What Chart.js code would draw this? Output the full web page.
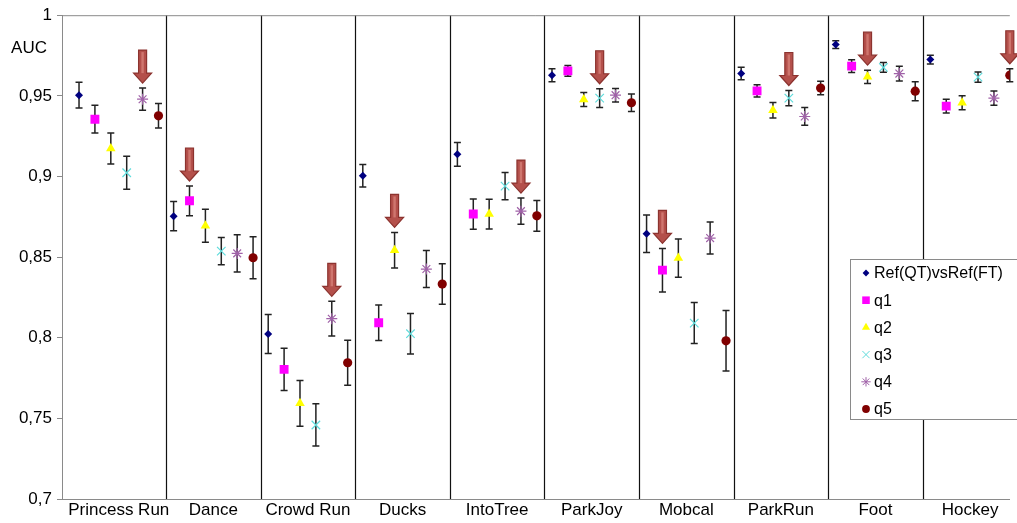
<!DOCTYPE html>
<html>
<head>
<meta charset="utf-8">
<script src="https://cdn.jsdelivr.net/npm/chart.js@4"></script>
<style>
  html, body { margin: 0; padding: 0; background: #fff; overflow: hidden; }
  #wrap { width: 1017px; height: 523px; }
</style>
</head>
<body>
<div id="wrap"><canvas id="resultsChart" width="1017" height="523"></canvas></div>
<script>
const categories = ['Princess Run', 'Dance', 'Crowd Run', 'Ducks', 'IntoTree', 'ParkJoy', 'Mobcal', 'ParkRun', 'Foot', 'Hockey'];
const seriesNames = ['Ref(QT)vsRef(FT)', 'q1', 'q2', 'q3', 'q4', 'q5'];

const refValues = [0.9504, 0.8754, 0.8023, 0.9004, 0.9137, 0.9628, 0.8645, 0.9638, 0.9818, 0.9725];
const q1Values = [0.9355, 0.8849, 0.7804, 0.8093, 0.8767, 0.9655, 0.8419, 0.9531, 0.9684, 0.9436];
const q2Values = [0.9174, 0.8694, 0.7593, 0.8543, 0.8767, 0.9477, 0.8494, 0.9411, 0.9618, 0.9457];
const q3Values = [0.9023, 0.8537, 0.7459, 0.8025, 0.8940, 0.9486, 0.8091, 0.9486, 0.9676, 0.9616];
const q4Values = [0.9479, 0.8523, 0.8118, 0.8426, 0.8785, 0.9504, 0.8618, 0.9372, 0.9638, 0.9486];
const q5Values = [0.9376, 0.8496, 0.7845, 0.8333, 0.8756, 0.9457, 0.7981, 0.9548, 0.9529, 0.9628];

// half-length of each error bar
const refErr = [0.0080, 0.0091, 0.0121, 0.0070, 0.0074, 0.0040, 0.0116, 0.0039, 0.0024, 0.0027];
const q1Err = [0.0086, 0.0092, 0.0131, 0.0110, 0.0094, 0.0033, 0.0135, 0.0038, 0.0040, 0.0043];
const q2Err = [0.0096, 0.0102, 0.0142, 0.0110, 0.0092, 0.0043, 0.0119, 0.0048, 0.0041, 0.0043];
const q3Err = [0.0102, 0.0085, 0.0131, 0.0126, 0.0084, 0.0058, 0.0127, 0.0047, 0.0030, 0.0032];
const q4Err = [0.0069, 0.0115, 0.0108, 0.0115, 0.0081, 0.0042, 0.0099, 0.0055, 0.0046, 0.0044];
const q5Err = [0.0076, 0.0130, 0.0139, 0.0126, 0.0095, 0.0054, 0.0188, 0.0042, 0.0059, 0.0040];

// which series gets the arrow in each group (0 = Ref, 1..5 = q1..q5)
const bestSeries = [4, 1, 4, 2, 4, 3, 1, 3, 2, 5];

const yTicks = [0.7, 0.75, 0.8, 0.85, 0.9, 0.95, 1];

const allValues = [refValues, q1Values, q2Values, q3Values, q4Values, q5Values];
const allErr = [refErr, q1Err, q2Err, q3Err, q4Err, q5Err];
const colors = ['#000080', '#ff00ff', '#ffff00', '#5fdcdc', '#a062a8', '#800000'];
const styles = ['rectRot', 'rect', 'triangle', 'crossRot', 'star', 'circle'];
const radii = [4, 6.3, 5.5, 6, 5.5, 4.6];
const slot = 0.168; // spacing of the six series inside one group

function xOf(group, s) {
  return group + (s - 2.5) * slot;
}

const datasets = allValues.map((vals, s) => ({
  label: seriesNames[s],
  data: vals.map((v, i) => ({ x: xOf(i, s), y: v })),
  pointStyle: styles[s],
  pointRadius: radii[s],
  pointHoverRadius: radii[s],
  backgroundColor: colors[s],
  borderColor: colors[s],
  pointBorderWidth: (s === 3 || s === 4) ? 1.2 : 0,
  showLine: false
}));

const decor = {
  id: 'decor',
  beforeDatasetsDraw(chart) {
    const ctx = chart.ctx, xs = chart.scales.x, ys = chart.scales.y, a = chart.chartArea;
    ctx.save();
    // group separators
    ctx.strokeStyle = '#111';
    ctx.lineWidth = 1.2;
    for (let i = 0; i < categories.length - 1; i++) {
      const px = Math.round(xs.getPixelForValue(i + 0.5)) + 0.5;
      ctx.beginPath();
      ctx.moveTo(px, a.top);
      ctx.lineTo(px, a.bottom);
      ctx.stroke();
    }
    // top line
    ctx.strokeStyle = '#8a8a8a';
    ctx.lineWidth = 1;
    ctx.beginPath();
    ctx.moveTo(a.left, a.top + 0.5);
    ctx.lineTo(a.right, a.top + 0.5);
    ctx.stroke();
    // error bars
    ctx.strokeStyle = '#222';
    ctx.lineWidth = 1.5;
    allValues.forEach((vals, s) => {
      vals.forEach((v, i) => {
        const px = xs.getPixelForValue(xOf(i, s));
        const y1 = ys.getPixelForValue(v + allErr[s][i]);
        const y2 = ys.getPixelForValue(v - allErr[s][i]);
        ctx.beginPath();
        ctx.moveTo(px, y1); ctx.lineTo(px, y2);
        ctx.moveTo(px - 3.5, y1); ctx.lineTo(px + 3.5, y1);
        ctx.moveTo(px - 3.5, y2); ctx.lineTo(px + 3.5, y2);
        ctx.stroke();
      });
    });
    ctx.restore();
  },
  afterDatasetsDraw(chart) {
    const ctx = chart.ctx, xs = chart.scales.x, ys = chart.scales.y;
    ctx.save();
    bestSeries.forEach((s, i) => {
      const v = allValues[s][i] + allErr[s][i];
      const px = xs.getPixelForValue(xOf(i, s));
      const tip = ys.getPixelForValue(v) - 5;
      const top = tip - 33, neck = tip - 10;
      ctx.beginPath();
      ctx.moveTo(px - 4, top);
      ctx.lineTo(px + 4, top);
      ctx.lineTo(px + 4, neck);
      ctx.lineTo(px + 9, neck);
      ctx.lineTo(px, tip);
      ctx.lineTo(px - 9, neck);
      ctx.lineTo(px - 4, neck);
      ctx.closePath();
      ctx.fillStyle = '#b4504b';
      ctx.fill();
      ctx.strokeStyle = '#8c332f';
      ctx.lineWidth = 1.2;
      ctx.stroke();
      ctx.fillStyle = 'rgba(230,150,140,0.55)';
      ctx.fillRect(px - 1.2, top + 2, 2.4, neck - top - 2);
    });
    ctx.restore();
  },
  afterDraw(chart) {
    const ctx = chart.ctx;
    ctx.save();
    ctx.fillStyle = '#000';
    ctx.font = '17px "Liberation Sans", Arial, sans-serif';
    ctx.textAlign = 'right';
    ctx.textBaseline = 'middle';
    ctx.fillText('AUC', 47, 48);
    // legend box
    const lx = 850, ly = 259;
    ctx.fillStyle = '#fff';
    ctx.fillRect(lx, ly, 200, 160);
    ctx.strokeStyle = '#8a8a8a';
    ctx.lineWidth = 1;
    ctx.strokeRect(lx + 0.5, ly + 0.5, 200, 160);
    ctx.font = '16px "Liberation Sans", Arial, sans-serif';
    ctx.textAlign = 'left';
    seriesNames.forEach((name, s) => {
      const ry = 273 + s * 27.2;
      ctx.fillStyle = colors[s];
      ctx.strokeStyle = colors[s];
      Chart.helpers.drawPoint(ctx, {
        pointStyle: styles[s],
        radius: radii[s] * 0.85,
        rotation: 0,
        borderWidth: (s === 3 || s === 4) ? 1.1 : 0
      }, 866, ry);
      ctx.fillStyle = '#000';
      ctx.fillText(name, 874, ry + 1);
    });
    ctx.restore();
  }
};

const ctx = document.getElementById('resultsChart').getContext('2d');
new Chart(ctx, {
  type: 'scatter',
  data: { datasets: datasets },
  options: {
    responsive: false,
    animation: false,
    events: [],
    layout: { padding: { top: 15, right: 0, left: 0, bottom: 0 } },
    plugins: { legend: { display: false }, tooltip: { enabled: false } },
    scales: {
      x: {
        type: 'linear',
        min: -0.6,
        max: 9.42,
        afterBuildTicks(scale) {
          scale.ticks = categories.map((c, i) => ({ value: i }));
        },
        afterFit(scale) { scale.height = 24; },
        ticks: {
          autoSkip: false,
          maxRotation: 0,
          padding: 1,
          color: '#000',
          font: { family: '"Liberation Sans", Arial, sans-serif', size: 17 },
          callback: (v) => categories[v]
        },
        grid: { display: false, drawTicks: false },
        border: { color: '#8a8a8a', width: 1 }
      },
      y: {
        min: 0.7,
        max: 1,
        afterBuildTicks(scale) {
          scale.ticks = yTicks.map(v => ({ value: v }));
        },
        afterFit(scale) { scale.width = 62; },
        ticks: {
          padding: 5,
          color: '#000',
          font: { family: '"Liberation Sans", Arial, sans-serif', size: 17 },
          callback: (v) => String(Number(v.toFixed(2))).replace('.', ',')
        },
        grid: { drawOnChartArea: false, tickLength: 5, color: '#8a8a8a' },
        border: { color: '#8a8a8a', width: 1 }
      }
    }
  },
  plugins: [decor]
});
</script>
</body>
</html>
